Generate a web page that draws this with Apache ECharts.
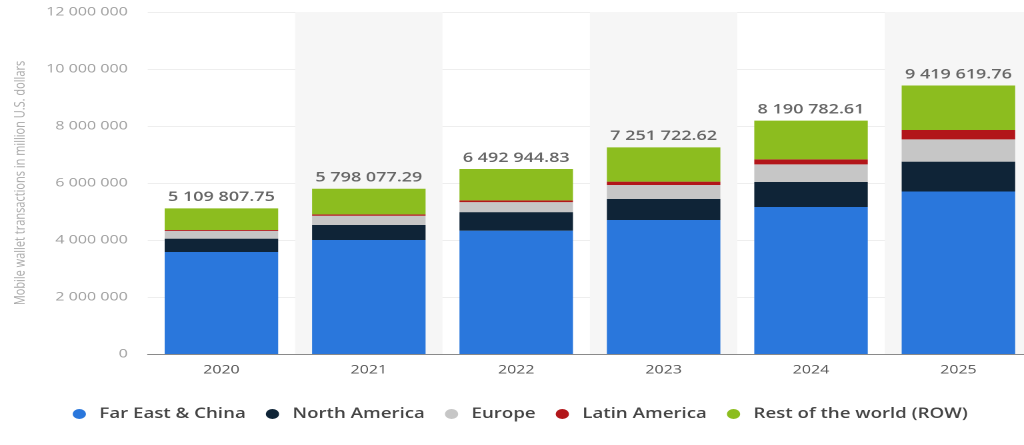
<!DOCTYPE html>
<html>
<head>
<meta charset="utf-8">
<script src="https://cdn.jsdelivr.net/npm/echarts@6/dist/echarts.min.js"></script>
<style>
  html, body { margin: 0; padding: 0; background: #ffffff; overflow: hidden; }
  /* the chart is laid out narrow and widened horizontally */
  #chart { width: 768px; height: 445px; transform: scaleX(1.3333); transform-origin: 0 0; }
</style>
</head>
<body>
<div id="chart"></div>
<script>
// Mobile wallet transaction value by region, million U.S. dollars
const years = ['2020', '2021', '2022', '2023', '2024', '2025'];
const farEastChina = [3580000, 4000000, 4330000, 4700000, 5160000, 5700000];
const northAmerica = [470000, 526000, 650000, 740000, 875000, 1050000];
const europe = [270000, 324000, 350000, 490000, 620000, 780000];
const latinAmerica = [30000, 50000, 60000, 120000, 175000, 330000];
const restOfWorld = [759807.75, 898077.29, 1102944.83, 1201722.62, 1360782.61, 1559619.76];
const totals = [5109807.75, 5798077.29, 6492944.83, 7251722.62, 8190782.61, 9419619.76];
const yTicks = [0, 2000000, 4000000, 6000000, 8000000, 10000000, 12000000];

const seriesNames = ['Far East & China', 'North America', 'Europe', 'Latin America', 'Rest of the world (ROW)'];
const seriesColors = ['#2a77dc', '#0f2437', '#c6c6c6', '#b2161a', '#8cbd1f'];
const seriesData = [farEastChina, northAmerica, europe, latinAmerica, restOfWorld];

function groupDigits(v) {
  const parts = String(v).split('.');
  parts[0] = parts[0].replace(/\B(?=(\d{3})+(?!\d))/g, ' ');
  return parts.join('.');
}

const chart = echarts.init(document.getElementById('chart'), null, { renderer: 'canvas', devicePixelRatio: 2 });

const series = seriesData.map((data, i) => {
  const s = {
    name: seriesNames[i],
    type: 'bar',
    stack: 'total',
    data: data,
    barCategoryGap: '23%',
    itemStyle: { color: seriesColors[i] },
    emphasis: { disabled: true }
  };
  if (i === seriesData.length - 1) {
    s.label = {
      show: true,
      position: 'top',
      distance: 4,
      color: '#666666',
      fontFamily: 'Open Sans',
      fontWeight: 600,
      fontSize: 13.5,
      formatter: p => groupDigits(totals[p.dataIndex].toFixed(2))
    };
  }
  return s;
});

chart.setOption({
  animation: false,
  color: seriesColors,
  // the plot runs slightly past the right edge of the page
  grid: { left: 110.8, width: 663.3, top: 12, bottom: 91, outerBoundsMode: 'none' },
  legend: {
    bottom: 19,
    left: 49.5,
    icon: 'circle',
    itemWidth: 10,
    itemHeight: 10,
    itemGap: 15,
    textStyle: { color: '#444444', fontFamily: 'Open Sans', fontWeight: 600, fontSize: 14, padding: [0, 0, 0, 5] },
    data: seriesNames
  },
  xAxis: {
    type: 'category',
    data: years,
    axisLine: { lineStyle: { color: '#8a8a8a', width: 1 } },
    axisTick: { show: false },
    axisLabel: { color: '#555555', fontFamily: 'Open Sans', fontSize: 12, margin: 10 },
    splitArea: { show: true, areaStyle: { color: ['rgba(255,255,255,0)', '#f6f6f6'] } }
  },
  yAxis: {
    type: 'value',
    min: yTicks[0],
    max: yTicks[yTicks.length - 1],
    interval: yTicks[1] - yTicks[0],
    name: 'Mobile wallet transactions in million U.S. dollars',
    nameLocation: 'middle',
    nameGap: 90,
    nameTextStyle: { color: '#a8a8a8', fontFamily: 'Open Sans', fontSize: 11 },
    axisLine: { show: false },
    axisTick: { show: false },
    axisLabel: { color: '#a0a0a0', fontFamily: 'Open Sans', fontSize: 12, margin: 15, formatter: v => groupDigits(v) },
    splitLine: { lineStyle: { color: '#eeeeee' } }
  },
  series: series
});
</script>
</body>
</html>
